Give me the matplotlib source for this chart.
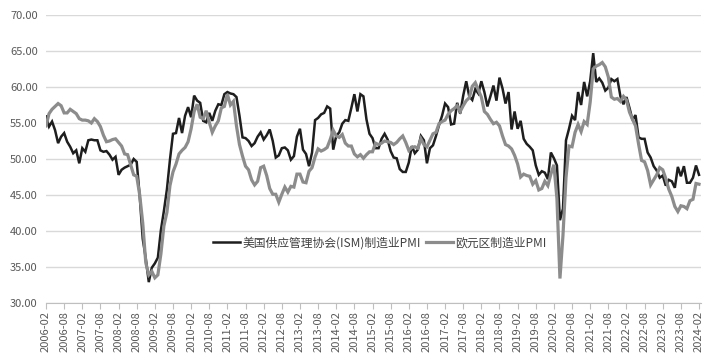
import numpy as np
import pandas as pd
import matplotlib
matplotlib.use("Agg")
import matplotlib.pyplot as plt

plt.rcParams['font.family'] = ['Noto Sans CJK SC', 'DejaVu Sans']

# monthly, 2006-02 .. 2024-02
months = list(pd.period_range('2006-02', '2024-02', freq='M').strftime('%Y-%m'))

ism_pmi = [
    55.9, 54.5, 55.2, 54.0, 52.2, 53.1, 53.6, 52.4, 51.7, 50.8, 51.2,          # 2006
    49.4, 51.5, 51.0, 52.6, 52.7, 52.6, 52.6, 51.2, 51.0, 51.1, 50.6, 49.9,    # 2007
    50.3, 47.8, 48.5, 48.8, 49.0, 49.2, 50.0, 49.6, 44.8, 38.9, 36.2, 32.9,    # 2008
    34.9, 35.5, 36.3, 40.1, 42.8, 45.8, 49.9, 53.5, 53.6, 55.7, 53.6, 56.0,    # 2009
    57.2, 55.8, 58.8, 58.1, 57.8, 55.3, 55.1, 56.4, 55.3, 56.7, 57.6, 57.5,    # 2010
    59.0, 59.3, 59.1, 59.0, 58.6, 56.0, 53.0, 52.9, 52.5, 51.8, 52.2, 53.1,    # 2011
    53.7, 52.7, 53.3, 54.1, 52.5, 50.2, 50.5, 51.5, 51.6, 51.2, 49.9, 50.4,    # 2012
    53.1, 54.2, 51.3, 50.7, 49.0, 50.9, 55.4, 55.7, 56.2, 56.4, 57.3, 57.0,    # 2013
    51.3, 53.2, 53.7, 54.9, 55.4, 55.3, 57.1, 59.0, 56.6, 59.0, 58.7, 55.5,    # 2014
    53.5, 52.9, 51.5, 51.5, 52.8, 53.5, 52.7, 51.1, 50.2, 50.1, 48.6, 48.2,    # 2015
    48.2, 49.5, 51.8, 50.8, 51.3, 53.2, 52.6, 49.4, 51.5, 51.9, 53.2, 54.7,    # 2016
    56.0, 57.7, 57.2, 54.8, 54.9, 57.8, 56.3, 58.8, 60.8, 58.7, 58.2, 59.7,    # 2017
    59.1, 60.8, 59.3, 57.3, 58.7, 60.2, 58.1, 61.3, 59.8, 57.7, 59.3, 54.1,    # 2018
    56.6, 54.2, 55.3, 52.8, 52.1, 51.7, 51.2, 49.1, 47.8, 48.3, 48.1, 47.2,    # 2019
    50.9, 50.1, 49.1, 41.5, 43.1, 52.6, 54.2, 56.0, 55.4, 59.3, 57.5, 60.7,    # 2020
    58.7, 60.8, 64.7, 60.7, 61.2, 60.6, 59.5, 59.9, 61.1, 60.8, 61.1, 58.7,    # 2021
    57.6, 58.6, 57.1, 55.4, 56.1, 53.0, 52.8, 52.8, 50.9, 50.2, 49.0, 48.4,    # 2022
    47.4, 47.7, 46.3, 47.1, 46.9, 46.0, 48.9, 47.6, 49.0, 46.7, 46.7, 47.4,    # 2023
    49.1, 47.8,                                                                # 2024
]

ez_pmi = [
    54.6, 56.3, 56.9, 57.3, 57.7, 57.4, 56.4, 56.4, 56.9, 56.6, 56.3,          # 2006
    55.6, 55.4, 55.4, 55.3, 55.0, 55.6, 55.2, 54.5, 53.3, 52.4, 52.5, 52.7,    # 2007
    52.8, 52.3, 51.8, 50.7, 50.6, 49.2, 47.8, 47.6, 45.0, 41.1, 35.6, 33.9,    # 2008
    34.4, 33.5, 33.9, 36.8, 40.7, 42.6, 46.3, 48.2, 49.3, 50.7, 51.2, 51.6,    # 2009
    52.4, 54.2, 56.6, 57.6, 55.8, 55.6, 56.7, 55.1, 53.7, 54.6, 55.3, 57.1,    # 2010
    57.3, 59.0, 57.5, 58.0, 54.6, 52.0, 50.4, 49.0, 48.5, 47.1, 46.4, 46.9,    # 2011
    48.8, 49.0, 47.7, 45.9, 45.1, 45.1, 44.0, 45.1, 46.1, 45.4, 46.2, 46.1,    # 2012
    47.9, 47.9, 46.8, 46.7, 48.3, 48.8, 50.3, 51.4, 51.1, 51.3, 51.6, 52.7,    # 2013
    54.0, 53.2, 53.0, 53.4, 52.2, 51.8, 51.8, 50.7, 50.3, 50.6, 50.1, 50.6,    # 2014
    51.0, 51.0, 52.2, 52.0, 52.2, 52.5, 52.4, 52.3, 52.0, 52.3, 52.8, 53.2,    # 2015
    52.3, 51.2, 51.6, 51.7, 51.5, 52.8, 52.0, 51.7, 52.6, 53.5, 53.7, 54.9,    # 2016
    55.2, 55.4, 56.2, 56.7, 57.0, 57.4, 56.6, 57.4, 58.1, 58.5, 60.1, 60.6,    # 2017
    59.6, 58.6, 56.6, 56.2, 55.5, 54.9, 55.1, 54.6, 53.2, 52.0, 51.8, 51.4,    # 2018
    50.5, 49.3, 47.5, 47.9, 47.7, 47.6, 46.5, 47.0, 45.7, 45.9, 46.9, 46.3,    # 2019
    47.9, 49.2, 44.5, 33.4, 39.4, 47.4, 51.8, 51.7, 53.7, 54.8, 53.8, 55.2,    # 2020
    54.8, 57.9, 62.5, 62.9, 63.1, 63.4, 62.8, 61.4, 58.6, 58.3, 58.4, 58.0,    # 2021
    58.7, 58.2, 56.5, 55.5, 54.6, 52.1, 49.8, 49.6, 48.4, 46.4, 47.1, 47.8,    # 2022
    48.8, 48.5, 47.3, 45.8, 44.8, 43.4, 42.7, 43.5, 43.4, 43.1, 44.2, 44.4,    # 2023
    46.6, 46.5,                                                                # 2024
]

ism_label = "美国供应管理协会(ISM)制造业PMI"
ez_label = "欧元区制造业PMI"

x = np.arange(len(months))

fig = plt.figure(figsize=(7.11, 3.62), dpi=100)
ax = fig.add_axes([0.0647, 0.163, 0.921, 0.7956])

ax.plot(x, ism_pmi, color='#1e1e1e', lw=1.8, label=ism_label, solid_joinstyle='miter')
ax.plot(x, ez_pmi, color='#8c8c8c', lw=2.3, label=ez_label, solid_joinstyle='miter')

ax.set_ylim(30, 70)
ax.set_yticks(np.arange(30, 71, 5))
ax.set_yticklabels([f"{v:.2f}" for v in np.arange(30, 71, 5)])
ax.set_xlim(0, len(months) - 0.4)
ax.set_xticks(x[::6])
ax.set_xticklabels(months[::6], rotation=90)

ax.yaxis.grid(True, color='#d9d9d9', lw=1)
ax.set_axisbelow(True)
for side in ['left', 'right', 'top']:
    ax.spines[side].set_visible(False)
ax.spines['bottom'].set_color('#bfbfbf')
ax.tick_params(axis='y', length=0, labelsize=8, labelcolor='#595959', pad=6)
ax.tick_params(axis='x', length=4, color='#bfbfbf', labelsize=8, labelcolor='#595959', pad=2)

leg = ax.legend(loc='center', bbox_to_anchor=(0.51, 0.208), ncol=2, frameon=False,
                fontsize=8.5, handlelength=2.3, columnspacing=0.4, handletextpad=0.2)
for t in leg.get_texts():
    t.set_color('#404040')

fig.savefig("out.png", dpi=100)
